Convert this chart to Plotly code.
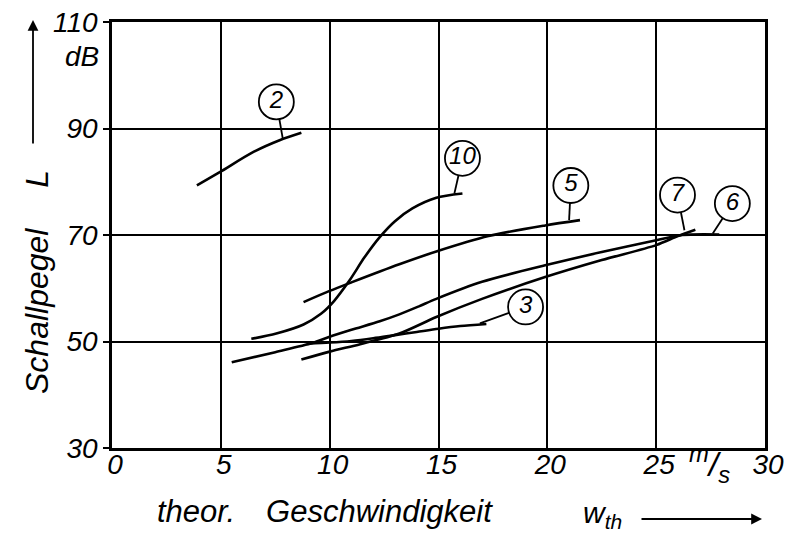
import plotly.graph_objects as go

# ---- data ----
c2_x = [3.9, 4.95, 6.5, 7.7, 8.7]
c2_y = [79.3, 81.8, 85.6, 87.8, 89.2]

c10_x = [6.4, 7.55, 8.8, 9.6, 10.2, 10.9, 11.6, 12.3, 13.0, 13.8, 14.9, 16.1]
c10_y = [50.5, 51.5, 53.2, 55.2, 57.6, 61.4, 65.8, 69.6, 72.6, 75.0, 77.0, 77.8]

c5_x = [8.8, 10.0, 11.0, 13.2, 14.9, 17.3, 19.9, 21.5]
c5_y = [57.4, 59.5, 61.1, 64.5, 66.9, 69.8, 71.8, 72.8]

c3_x = [9.0, 10, 11, 12, 13, 14, 15, 16, 17.2]
c3_y = [49.6, 49.8, 50.1, 50.6, 51.2, 51.8, 52.4, 52.9, 53.3]

c7_x = [8.7, 10, 11.4, 13.2, 14.9, 17, 19.9, 22.5, 25, 26, 26.8]
c7_y = [46.6, 48.1, 49.5, 51.5, 54.6, 58.0, 62.1, 65.3, 68.1, 69.8, 71.0]

c6_x = [5.5, 7.5, 9.2, 10, 11, 12.3, 13.2, 14.1, 14.9, 17, 19.9, 22.5, 25, 26.2, 27.9]
c6_y = [46.1, 48.0, 49.7, 50.9, 52.2, 53.8, 55.1, 56.6, 58.0, 61.2, 64.3, 66.8, 69.0, 70.0, 70.1]

label_names = ["2", "10", "5", "3", "7", "6"]
label_x = [7.55, 16.1, 21.08, 19.0, 25.98, 28.5]
label_y = [95.0, 84.4, 79.3, 56.5, 77.5, 75.9]
leader_x = [7.85, 15.73, 21.0, 16.9, 26.3, 27.6]
leader_y = [88.0, 77.8, 72.8, 53.4, 70.9, 70.3]

x_ticks = [0, 5, 10, 15, 20, 25, 30]
y_ticks = [30, 50, 70, 90, 110]

FONT = "Liberation Sans"
W, H = 787, 539
ML, MR, MT, MB = 112, 22, 22, 91
PW, PH = W - ML - MR, H - MT - MB


def px(xp):
    return (xp - ML) / PW


def py(yp):
    return (H - MB - yp) / PH


fig = go.Figure()

curves = [(c2_x, c2_y), (c10_x, c10_y), (c5_x, c5_y), (c3_x, c3_y), (c7_x, c7_y), (c6_x, c6_y)]
for cx, cy in curves:
    fig.add_trace(go.Scatter(x=cx, y=cy, mode="lines",
                             line=dict(color="black", width=2.6, shape="spline", smoothing=0.8),
                             hoverinfo="skip", showlegend=False))

# leader lines
for i in range(len(label_names)):
    fig.add_trace(go.Scatter(x=[label_x[i], leader_x[i]], y=[label_y[i], leader_y[i]],
                             mode="lines", line=dict(color="black", width=1.8),
                             hoverinfo="skip", showlegend=False))

# circled labels
fig.add_trace(go.Scatter(x=label_x, y=label_y, mode="markers+text", text=label_names,
                         textposition="middle center",
                         textfont=dict(family=FONT, size=24, color="black", style="italic"),
                         marker=dict(symbol="circle", size=35, color="white",
                                     line=dict(color="black", width=1.8)),
                         hoverinfo="skip", showlegend=False))

tickfont = dict(family=FONT, size=28, color="black", style="italic")

fig.update_xaxes(range=[0, 30], tickvals=x_ticks, ticktext=[str(v) for v in x_ticks],
                 showgrid=True, gridcolor="black", gridwidth=2,
                 showline=True, linecolor="black", linewidth=2.5, mirror=True,
                 zeroline=False, ticks="", tickfont=tickfont, ticklabelshift=3,
                 ticklabelstandoff=-10, ticklabeloverflow="allow", automargin=False)
fig.update_yaxes(range=[30, 110], tickvals=y_ticks, ticktext=[str(v) for v in y_ticks],
                 showgrid=True, gridcolor="black", gridwidth=2,
                 showline=True, linecolor="black", linewidth=2.5, mirror=True,
                 zeroline=False, ticks="outside", ticklen=6, tickcolor="black", tickwidth=1.5,
                 tickfont=tickfont, ticklabelstandoff=0, ticklabeloverflow="allow",
                 automargin=False)

ann = []
ann.append(dict(x=px(82), y=py(57), xref="paper", yref="paper", text="dB",
                showarrow=False, font=tickfont, xanchor="center", yanchor="middle"))
ann.append(dict(x=px(709), y=py(464), xref="paper", yref="paper",
                text="<sup>m</sup>/<sub>s</sub>",
                showarrow=False, font=dict(family=FONT, size=34, color="black", style="italic"),
                xanchor="center", yanchor="middle"))
ann.append(dict(x=px(37), y=py(282), xref="paper", yref="paper",
                text="Schallpegel\u2003 L", textangle=-90,
                showarrow=False, font=dict(family=FONT, size=32, color="black", style="italic"),
                xanchor="center", yanchor="middle"))
ann.append(dict(x=px(325), y=py(511), xref="paper", yref="paper",
                text="theor.\u2003Geschwindigkeit",
                showarrow=False, font=dict(family=FONT, size=31, color="black", style="italic"),
                xanchor="center", yanchor="middle"))
ann.append(dict(x=px(602), y=py(514), xref="paper", yref="paper",
                text="w<sub>th</sub>",
                showarrow=False, font=dict(family=FONT, size=30, color="black", style="italic"),
                xanchor="center", yanchor="middle"))
# arrows
ann.append(dict(x=px(33), y=py(20), xref="paper", yref="paper", text="",
                showarrow=True, arrowhead=2, arrowsize=1.2, arrowwidth=1.8, arrowcolor="black",
                ax=0, ay=125, axref="pixel", ayref="pixel"))
ann.append(dict(x=px(762), y=py(519), xref="paper", yref="paper", text="",
                showarrow=True, arrowhead=2, arrowsize=1.2, arrowwidth=1.8, arrowcolor="black",
                ax=-122, ay=0, axref="pixel", ayref="pixel"))

fig.update_layout(width=W, height=H, margin=dict(l=ML, r=MR, t=MT, b=MB),
                  paper_bgcolor="white", plot_bgcolor="white", annotations=ann,
                  showlegend=False)

fig.write_html("out.html")
